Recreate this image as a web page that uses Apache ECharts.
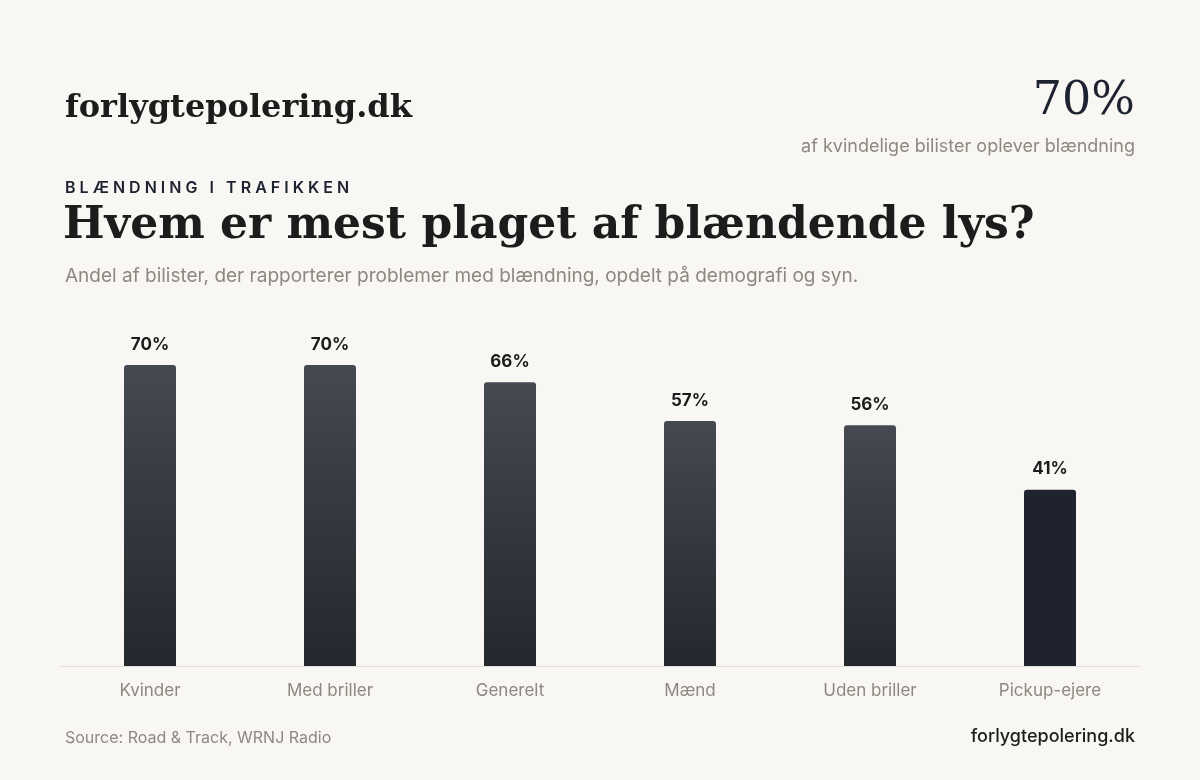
<!DOCTYPE html>
<html><head><meta charset="utf-8">
<script src="https://cdn.jsdelivr.net/npm/echarts@6/dist/echarts.min.js"></script>
<style>html,body{margin:0;background:#f8f7f3}#c{width:1200px;height:780px}</style>
</head><body><div id="c"></div>
<script>
const categories = ["Kvinder","Med briller","Generelt","Mænd","Uden briller","Pickup-ejere"];
const values = [70,70,66,57,56,41];
const highlightIndex = 5;

const chart = echarts.init(document.getElementById('c'));
const grad = new echarts.graphic.LinearGradient(0,0,0,1,[{offset:0,color:'#464852'},{offset:1,color:'#25272e'}]);
chart.setOption({
  backgroundColor:'#f8f7f3',
  title:[
    {text:'forlygtepolering.dk',left:60,top:88,textStyle:{fontFamily:'DejaVu Serif',fontWeight:'bold',fontSize:32,color:'#1c1c1c'}},
    {text:'70%',right:60,top:74,textStyle:{fontFamily:'DejaVu Serif',fontSize:46,color:'#1e2230',fontWeight:'normal'}},
    {text:'af kvindelige bilister oplever blændning',right:60,top:133,textStyle:{fontFamily:'Inter',fontSize:18,color:'#8f8780',fontWeight:'normal'}},
    {text:'B L Æ N D N I N G   I   T R A F I K K E N',left:60,top:175,textStyle:{fontFamily:'Inter',fontSize:16,color:'#1e2230',fontWeight:'600'}},
    {text:'Hvem er mest plaget af blændende lys?',left:58,top:200,textStyle:{fontFamily:'DejaVu Serif',fontWeight:'bold',fontSize:44,color:'#1c1c1c'}},
    {text:'Andel af bilister, der rapporterer problemer med blændning, opdelt på demografi og syn.',left:60,top:262,textStyle:{fontFamily:'Inter',fontSize:19,color:'#8f8780',fontWeight:'normal'}},
    {text:'Source: Road & Track, WRNJ Radio',left:60,top:725,textStyle:{fontFamily:'Inter',fontSize:16,color:'#8f8780',fontWeight:'normal'}},
    {text:'forlygtepolering.dk',right:60,top:723,textStyle:{fontFamily:'Inter',fontSize:18,color:'#1c1c1c',fontWeight:'500'}}
  ],
  grid:{left:60,right:60,top:236,bottom:114},
  xAxis:{type:'category',data:categories,axisTick:{show:false},
    axisLine:{lineStyle:{color:'#e2dfda'}},
    axisLabel:{color:'#8f8780',fontFamily:'Inter',fontSize:17,margin:16}},
  yAxis:{type:'value',min:0,max:100,show:false,splitLine:{show:false}},
  series:[{type:'bar',barWidth:52,
    data:values.map((v,i)=>({value:v,itemStyle:{color:i===highlightIndex?'#1f2330':grad,borderRadius:[3,3,0,0]}})),
    label:{show:true,position:'top',distance:12,formatter:'{c}%',fontFamily:'Inter',fontWeight:'bold',fontSize:17,color:'#1c1c1c'}}]
});
</script></body></html>
